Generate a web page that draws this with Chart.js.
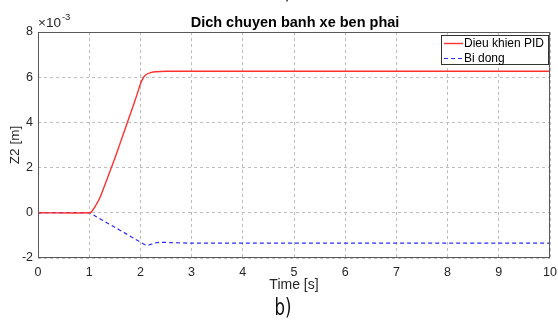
<!DOCTYPE html>
<html>
<head>
<meta charset="utf-8">
<script src="https://cdn.jsdelivr.net/npm/chart.js@4.4.0/dist/chart.umd.min.js"></script>
<style>
  html, body { margin: 0; padding: 0; background: #fff; }
  #wrap { width: 558px; height: 327px; }
</style>
</head>
<body>
<div id="wrap"><canvas id="z2Chart" width="558" height="327"></canvas></div>
<script>
// thoi gian [s] va dich chuyen Z2 (don vi 1e-3 m)
const tPid = [0, 1.0, 1.05, 1.1, 1.2, 1.3, 1.4, 1.5, 1.6, 1.7, 1.8, 1.9, 1.95, 2.0, 2.05, 2.1, 2.2, 2.3, 2.5, 3, 10];
const zPid = [0, 0, 0.06, 0.22, 0.62, 1.2, 1.8, 2.4, 3.05, 3.7, 4.35, 5.0, 5.35, 5.7, 5.95, 6.1, 6.2, 6.24, 6.26, 6.26, 6.26];

const tPassive = [0, 1.0, 1.1, 1.3, 1.5, 1.7, 1.9, 2.0, 2.1, 2.15, 2.25, 2.35, 2.6, 3, 10];
const zPassive = [0, 0, -0.12, -0.38, -0.64, -0.9, -1.17, -1.3, -1.42, -1.43, -1.36, -1.31, -1.32, -1.34, -1.34];

const seriesNames = ["Dieu khien PID", "Bi dong"];
const xTicks = [0, 1, 2, 3, 4, 5, 6, 7, 8, 9, 10];
const yTicks = [-2, 0, 2, 4, 6, 8];

const FONT = "'Liberation Sans', Arial, Helvetica, sans-serif";

function toPoints(xs, ys) {
    return xs.map((x, i) => ({ x: x, y: ys[i] * 1e-3 }));
}

// khung, chu thich, he so x10^-3, nhan hinh
const decorPlugin = {
    id: "decor",
    afterDraw(chart) {
        const ctx = chart.ctx;
        const a = chart.chartArea;
        ctx.save();

        ctx.strokeStyle = "#5a5a5a";
        ctx.lineWidth = 1;
        ctx.strokeRect(a.left + 0.5, a.top + 0.5, a.right - a.left - 1, a.bottom - a.top - 1);

        // he so mu
        ctx.fillStyle = "#262626";
        ctx.font = "13.5px " + FONT;
        ctx.textBaseline = "alphabetic";
        ctx.textAlign = "left";
        ctx.fillText("\u00d710", a.left, a.top - 5);
        const w = ctx.measureText("\u00d710").width;
        ctx.font = "9.5px " + FONT;
        ctx.fillText("-3", a.left + w + 1, a.top - 12);

        // tieu de
        ctx.font = "bold 14.5px " + FONT;
        ctx.textAlign = "center";
        ctx.fillStyle = "#000";
        ctx.fillText("Dich chuyen banh xe ben phai", 295, a.top - 5);

        // chu thich
        const bx = 441, by = 35, bw = 107, bh = 29;
        ctx.fillStyle = "#fff";
        ctx.fillRect(bx, by, bw, bh);
        ctx.strokeStyle = "#333";
        ctx.lineWidth = 1;
        ctx.strokeRect(bx + 0.5, by + 0.5, bw, bh);
        chart.data.datasets.forEach((ds, i) => {
            const y = by + 8.5 + i * 15;
            ctx.strokeStyle = ds.borderColor;
            ctx.lineWidth = ds.borderWidth;
            ctx.setLineDash(ds.borderDash || []);
            ctx.beginPath();
            ctx.moveTo(bx + 3, y);
            ctx.lineTo(bx + 22, y);
            ctx.stroke();
            ctx.setLineDash([]);
            ctx.fillStyle = "#000";
            ctx.font = "12px " + FONT;
            ctx.textAlign = "left";
            ctx.textBaseline = "middle";
            ctx.fillText(ds.label, bx + 23, y + 0.5);
        });

        // nhan hinh
        ctx.fillStyle = "#111";
        ctx.font = "23px 'DejaVu Sans Condensed', 'Liberation Sans Narrow', sans-serif";
        ctx.textAlign = "center";
        ctx.textBaseline = "alphabetic";
        ctx.save();
        ctx.translate(283, 315);
        ctx.scale(0.8, 1);
        ctx.fillText("b)", 0, 0);
        ctx.restore();
        ctx.save();
        ctx.translate(283, -1);
        ctx.scale(0.8, 1);
        ctx.fillText("a)", 0, 0);
        ctx.restore();
        ctx.restore();
    }
};

new Chart(document.getElementById("z2Chart"), {
    type: "line",
    data: {
        datasets: [
            {
                label: seriesNames[0],
                data: toPoints(tPid, zPid),
                borderColor: "#ff3030",
                borderWidth: 1.4,
                pointRadius: 0,
                tension: 0.3,
                fill: false
            },
            {
                label: seriesNames[1],
                data: toPoints(tPassive, zPassive),
                borderColor: "#2b2bff",
                borderWidth: 1.2,
                borderDash: [4, 3],
                pointRadius: 0,
                tension: 0.3,
                fill: false
            }
        ]
    },
    options: {
        responsive: false,
        animation: false,
        layout: { padding: { left: 0, right: 8, top: 32, bottom: 29 } },
        plugins: {
            legend: { display: false },
            title: { display: false },
            tooltip: { enabled: false }
        },
        scales: {
            x: {
                type: "linear",
                min: 0,
                max: 10,
                afterBuildTicks: (s) => { s.ticks = xTicks.map((v) => ({ value: v })); },
                afterFit: (s) => {
                    s.height = 40;
                    s.paddingLeft = 0;
                    s.paddingRight = 0;
                },
                ticks: {
                    color: "#262626",
                    font: { family: FONT, size: 12.5 },
                    padding: 7,
                    maxRotation: 0
                },
                grid: { color: "#bdbdbd", drawTicks: false, lineWidth: 1 },
                border: { display: false, dash: [3, 3] },
                title: {
                    display: true,
                    text: "Time [s]",
                    color: "#262626",
                    font: { family: FONT, size: 14 },
                    padding: { top: 0, bottom: 4 }
                }
            },
            y: {
                type: "linear",
                min: -0.002,
                max: 0.008,
                afterBuildTicks: (s) => { s.ticks = yTicks.map((v) => ({ value: v * 1e-3 })); },
                afterFit: (s) => {
                    s.width = 38;
                    s.paddingTop = 0;
                    s.paddingBottom = 0;
                },
                ticks: {
                    color: "#262626",
                    font: { family: FONT, size: 12.5 },
                    padding: 5,
                    callback: (v) => String(Math.round(v * 1000))
                },
                grid: { color: "#bdbdbd", drawTicks: false, lineWidth: 1 },
                border: { display: false, dash: [3, 3] },
                title: {
                    display: true,
                    text: "Z2 [m]",
                    color: "#262626",
                    font: { family: FONT, size: 13.5 },
                    padding: { top: 7, bottom: 0 }
                }
            }
        }
    },
    plugins: [decorPlugin]
});
</script>
</body>
</html>
